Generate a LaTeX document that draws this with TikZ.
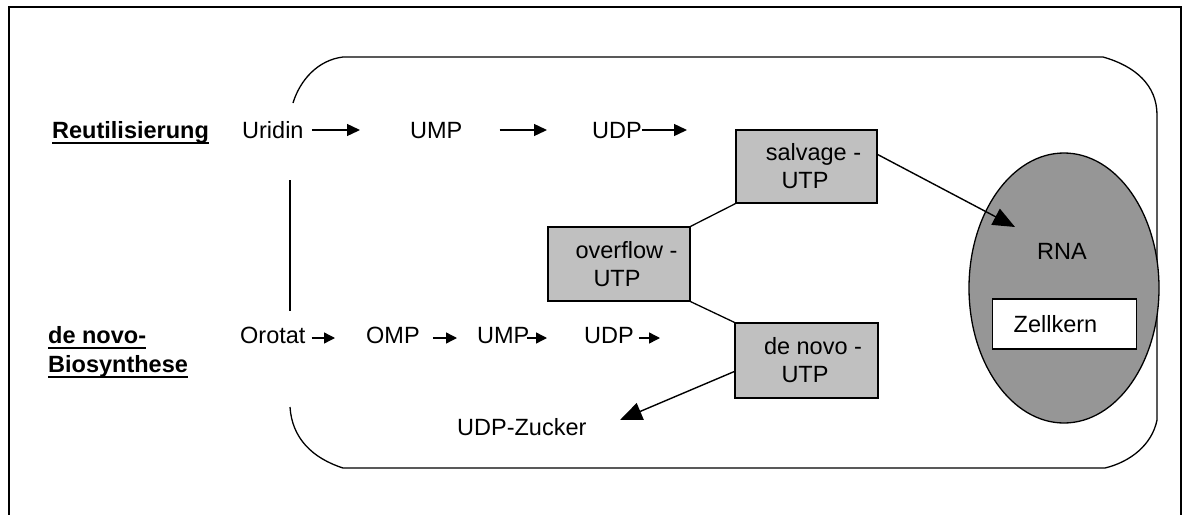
\documentclass[tikz,border=0pt]{standalone}
\usepackage{fontspec}
\setmainfont{Liberation Sans}
\usetikzlibrary{arrows.meta,shapes.geometric}
\definecolor{boxgray}{HTML}{C0C0C0}
\definecolor{nucgray}{HTML}{969696}
\begin{document}
\begin{tikzpicture}[x=1pt,y=-1pt,
  every node/.style={font=\fontsize{23.5}{28}\selectfont, inner sep=0pt},
  lbl/.style={anchor=base west},
  hd/.style={anchor=base west, font=\fontsize{23.5}{29}\selectfont\bfseries},
  ul/.style={line width=2pt},
  arr/.style={line width=1.4pt, -{Triangle[length=13pt,width=12pt]}},
  sarr/.style={line width=1.4pt, -{Triangle[length=11pt,width=11pt]}},
  barr/.style={line width=1.4pt, -{Triangle[length=22pt,width=18pt]}},
  utp/.style={draw, line width=1.3pt, fill=boxgray, minimum width=142pt, minimum height=74pt, align=center},
  cell/.style={line width=1.3pt}
]
\useasboundingbox (0,0) rectangle (1183,514);
% outer frame
\draw[line width=2pt] (9,530) -- (9,7) -- (1181,7) -- (1181,530);
% cell outline
\draw[cell] (293,103) .. controls (300,80) and (318,60) .. (343,57) -- (1103,57)
  .. controls (1135,66) and (1157,85) .. (1157,115) -- (1157,420)
  .. controls (1152,445) and (1130,462) .. (1105,468) -- (343,468)
  .. controls (312,458) and (292,438) .. (290,407);
\draw[cell] (290,180) -- (290,311);

% headings
\node[hd] (reut) at (52,138) {Reutilisierung};
\draw[ul] ([yshift=-4.5pt]reut.base west) -- ([yshift=-4.5pt]reut.base east);
\node[hd] (dn1) at (48,343) {de novo-};
\draw[ul] ([yshift=-4.5pt]dn1.base west) -- ([yshift=-4.5pt]dn1.base east);
\node[hd] (dn2) at (48,372) {Biosynthese};
\draw[ul] ([yshift=-4.5pt]dn2.base west) -- ([yshift=-4.5pt]dn2.base east);

% salvage row
\node[lbl] (uridin) at (242,138) {Uridin};
\node[lbl] (ump1) at (410,138) {UMP};
\node[lbl] (udp1) at (592,138) {UDP};
\coordinate (udp1end) at (687,130);
\draw[arr] ([xshift=8pt,yshift=8pt]uridin.base east) -- ([xshift=-50pt,yshift=8pt]ump1.base west);
\draw[arr] ([xshift=37pt,yshift=8pt]ump1.base east) -- ([xshift=-45pt,yshift=8pt]udp1.base west);
\draw[arr] ([yshift=8pt]udp1.base east) -- (udp1end);

% de novo row
\node[lbl] (orotat) at (240,343) {Orotat};
\node[lbl] (omp) at (366,343) {OMP};
\node[lbl] (ump2) at (477,343) {UMP};
\node[lbl] (udp2) at (584,343) {UDP};
\coordinate (udp2end) at (660,338);
\draw[sarr] ([xshift=6pt,yshift=5pt]orotat.base east) -- ([xshift=-31pt,yshift=5pt]omp.base west);
\draw[sarr] ([xshift=13pt,yshift=5pt]omp.base east) -- ([xshift=-20pt,yshift=5pt]ump2.base west);
\draw[sarr] ([xshift=-3pt,yshift=5pt]ump2.base east) -- ([xshift=-37pt,yshift=5pt]udp2.base west);
\draw[sarr] ([xshift=5pt,yshift=5pt]udp2.base east) -- (udp2end);

\node[lbl] (uz) at (457,435) {UDP-Zucker};

% UTP boxes
\node[utp, minimum width=141pt, minimum height=73pt] (salv) at (806.5,166.5) {\hspace*{14pt}salvage -\\UTP\hspace*{3pt}};
\node[utp] (over) at (619,264) {\hspace*{15pt}overflow -\\UTP\hspace*{4pt}};
\node[utp, minimum width=143pt, minimum height=75pt] (dnu) at (806.5,360.5) {\hspace*{13pt}de novo -\\UTP\hspace*{3pt}};
\draw[line width=1.3pt] (salv.south west) -- (over.north east);
\draw[line width=1.3pt] (over.south east) -- (dnu.north west);

% nucleus
\node[draw, ellipse, fill=nucgray, line width=1.3pt, minimum width=190pt, minimum height=270pt] (nuc) at (1064,288) {};
\node[anchor=base] (rna) at (1062,259) {RNA};
\node[draw, fill=white, line width=1.3pt, minimum width=144pt, minimum height=50pt] (zk) at (1064.5,324) {Zellkern\hspace*{18pt}};

% long arrows
\coordinate (rnatip) at (1015,227);
\draw[barr] ([yshift=12pt]salv.east) -- (rnatip);
\coordinate (uztip) at (620,420);
\draw[barr] ([yshift=-11pt]dnu.west) -- (uztip);
\end{tikzpicture}
\end{document}
